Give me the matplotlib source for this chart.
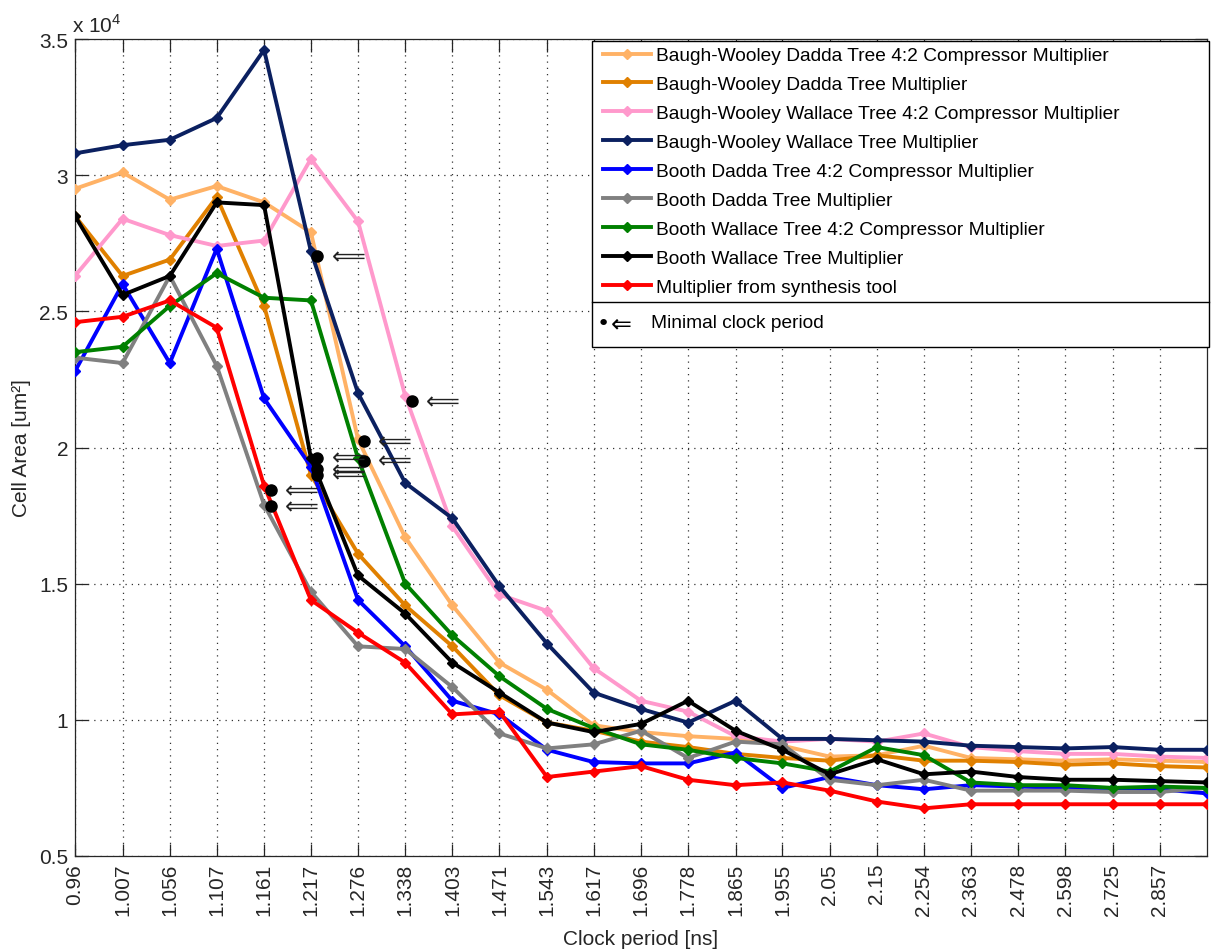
import numpy as np
import matplotlib
matplotlib.use("Agg")
import matplotlib.pyplot as plt
from matplotlib.patches import Rectangle
from matplotlib.lines import Line2D

plt.rcParams['font.family'] = ['Liberation Sans', 'DejaVu Sans']
plt.rcParams['mathtext.fontset'] = 'custom'
plt.rcParams['mathtext.rm'] = 'Liberation Sans'

# ---------------- data ----------------
clock_period = [0.96, 1.007, 1.056, 1.107, 1.161, 1.217, 1.276, 1.338, 1.403, 1.471,
                1.543, 1.617, 1.696, 1.778, 1.865, 1.955, 2.05, 2.15, 2.254, 2.363,
                2.478, 2.598, 2.725, 2.857, 2.996]
tick_labels = ['0.96', '1.007', '1.056', '1.107', '1.161', '1.217', '1.276', '1.338',
               '1.403', '1.471', '1.543', '1.617', '1.696', '1.778', '1.865', '1.955',
               '2.05', '2.15', '2.254', '2.363', '2.478', '2.598', '2.725', '2.857']

series_names = [
    'Baugh-Wooley Dadda Tree 4:2 Compressor Multiplier',
    'Baugh-Wooley Dadda Tree Multiplier',
    'Baugh-Wooley Wallace Tree 4:2 Compressor Multiplier',
    'Baugh-Wooley Wallace Tree Multiplier',
    'Booth Dadda Tree 4:2 Compressor Multiplier',
    'Booth Dadda Tree Multiplier',
    'Booth Wallace Tree 4:2 Compressor Multiplier',
    'Booth Wallace Tree Multiplier',
    'Multiplier from synthesis tool',
]
series_colors = ['#FFB266', '#E08000', '#FF99CC', '#0B2060', '#0000FF',
                 '#808080', '#008000', '#000000', '#FF0000']

# cell area in units of 10^4 um^2
bw_dadda_42 = [2.95, 3.01, 2.91, 2.96, 2.90, 2.79, 2.03, 1.67, 1.42, 1.21, 1.11, 0.98, 0.955,
               0.94, 0.93, 0.905, 0.865, 0.87, 0.905, 0.86, 0.855, 0.85, 0.855, 0.85, 0.845]
bw_dadda = [2.85, 2.63, 2.69, 2.92, 2.52, 1.90, 1.61, 1.42, 1.27, 1.09, 0.99, 0.96, 0.92,
            0.90, 0.875, 0.86, 0.85, 0.87, 0.85, 0.85, 0.845, 0.835, 0.84, 0.83, 0.825]
bw_wallace_42 = [2.63, 2.84, 2.78, 2.74, 2.76, 3.06, 2.83, 2.19, 1.71, 1.46, 1.40, 1.19, 1.07,
                 1.03, 0.94, 0.92, 0.93, 0.92, 0.95, 0.90, 0.885, 0.875, 0.875, 0.865, 0.86]
bw_wallace = [3.08, 3.11, 3.13, 3.21, 3.46, 2.72, 2.20, 1.87, 1.74, 1.49, 1.28, 1.10, 1.04,
              0.99, 1.07, 0.93, 0.93, 0.925, 0.92, 0.905, 0.90, 0.895, 0.90, 0.89, 0.89]
booth_dadda_42 = [2.28, 2.60, 2.31, 2.73, 2.18, 1.93, 1.44, 1.27, 1.07, 1.02, 0.89, 0.845, 0.84,
                  0.84, 0.88, 0.75, 0.79, 0.76, 0.745, 0.76, 0.755, 0.75, 0.75, 0.745, 0.73]
booth_dadda = [2.33, 2.31, 2.63, 2.30, 1.79, 1.47, 1.27, 1.26, 1.12, 0.95, 0.895, 0.91, 0.96,
               0.86, 0.92, 0.91, 0.78, 0.76, 0.78, 0.74, 0.74, 0.74, 0.735, 0.735, 0.75]
booth_wallace_42 = [2.35, 2.37, 2.52, 2.64, 2.55, 2.54, 1.96, 1.50, 1.31, 1.16, 1.04, 0.97, 0.91,
                    0.89, 0.86, 0.84, 0.81, 0.90, 0.87, 0.77, 0.76, 0.76, 0.75, 0.755, 0.75]
booth_wallace = [2.85, 2.56, 2.63, 2.90, 2.89, 1.96, 1.53, 1.39, 1.21, 1.10, 0.99, 0.955, 0.985,
                 1.07, 0.96, 0.89, 0.80, 0.855, 0.80, 0.81, 0.79, 0.78, 0.78, 0.775, 0.77]
synthesis_tool = [2.46, 2.48, 2.54, 2.44, 1.86, 1.44, 1.32, 1.21, 1.02, 1.03, 0.79, 0.81, 0.83,
                  0.78, 0.76, 0.77, 0.74, 0.70, 0.675, 0.69, 0.69, 0.69, 0.69, 0.69, 0.69]

all_series = [bw_dadda_42, bw_dadda, bw_wallace_42, bw_wallace, booth_dadda_42,
              booth_dadda, booth_wallace_42, booth_wallace, synthesis_tool]

# minimal clock period points (same order as series)
min_period = [1.284, 1.225, 1.347, 1.225, 1.225, 1.169, 1.284, 1.225, 1.169]
min_area = [2.024, 1.90, 2.171, 2.703, 1.921, 1.785, 1.951, 1.962, 1.844]

# ---------------- figure ----------------
W, H = 1211, 953
fig = plt.figure(figsize=(W / 100, H / 100), dpi=100)
L, R, T, B = 75, 1207, 40, 857
ax = fig.add_axes([L / W, 1 - B / H, (R - L) / W, (B - T) / H])

for vals, name, col in zip(all_series, series_names, series_colors):
    ax.plot(clock_period, vals, '-', color=col, lw=2.8, marker='D', ms=5.5,
            mec=col, mfc=col, label=name, zorder=3)

ax.plot(min_period, min_area, 'o', color='black', ms=8, ls='none', zorder=5)
for p, a in zip(min_period, min_area):
    ax.annotate('\u27f8', xy=(p, a), xytext=(10, 0), textcoords='offset points',
                ha='left', va='center', fontsize=17, family='DejaVu Sans', zorder=5,
                color='#222222')

ax.set_xscale('log')
ax.set_xlim(clock_period[0], clock_period[-1])
ax.set_ylim(0.5, 3.5)
ax.set_xticks(clock_period[:len(tick_labels)])
ax.set_xticklabels(tick_labels, rotation=90)
ax.xaxis.set_minor_locator(matplotlib.ticker.NullLocator())
yt = [0.5, 1, 1.5, 2, 2.5, 3, 3.5]
ax.set_yticks(yt)
ax.set_yticklabels(['0.5', '1', '1.5', '2', '2.5', '3', '3.5'])
ax.tick_params(direction='in', length=9, width=0.9, top=True, right=True,
               labelsize=15, pad=5, colors='#262626')
ax.grid(True, color='#333333', linestyle=(0, (1, 4)), linewidth=0.9)
for s in ax.spines.values():
    s.set_linewidth(0.9)
    s.set_color('#262626')

ax.set_xlabel('Clock period [ns]', fontsize=15, labelpad=10, color='#262626')
ax.set_ylabel('Cell Area [um\u00b2]', fontsize=15, labelpad=6, color='#262626')
ax.text(-0.003, 1.004, 'x 10$^{\\mathregular{4}}$', transform=ax.transAxes,
        fontsize=15, ha='left', va='bottom', color='#262626')

# ---------------- legend box ----------------
def axx(px):
    return (px - L) / (R - L)

def axy(py):
    return (B - py) / (B - T)

x0, x1 = axx(592), axx(1209)
ytop, ysep, ybot = axy(42), axy(303), axy(348)
ax.add_patch(Rectangle((x0, ybot), x1 - x0, ytop - ybot, transform=ax.transAxes,
                       facecolor='white', edgecolor='black', lw=1.0, zorder=10, clip_on=False))
ax.add_line(Line2D([x0, x1], [ysep, ysep], transform=ax.transAxes, color='black',
                   lw=1.0, zorder=11, clip_on=False))
leg = ax.legend(loc='upper left', bbox_to_anchor=(axx(599), axy(44)), frameon=False,
                fontsize=13.8, handlelength=2.5, handletextpad=0.3, labelspacing=0.6,
                borderpad=0.2, borderaxespad=0)
leg.set_zorder(12)
ymid = axy(324)
ax.text(axx(603), ymid, '\u2022', transform=ax.transAxes, ha='center', va='center',
        fontsize=16, zorder=12, family='DejaVu Sans')
ax.text(axx(611), ymid, '\u21d0', transform=ax.transAxes, ha='left', va='center',
        fontsize=18, zorder=12, family='DejaVu Sans')
ax.text(axx(651), ymid, 'Minimal clock period', transform=ax.transAxes, ha='left',
        va='center', fontsize=13.8, zorder=12)

fig.savefig('out.png', dpi=100)
